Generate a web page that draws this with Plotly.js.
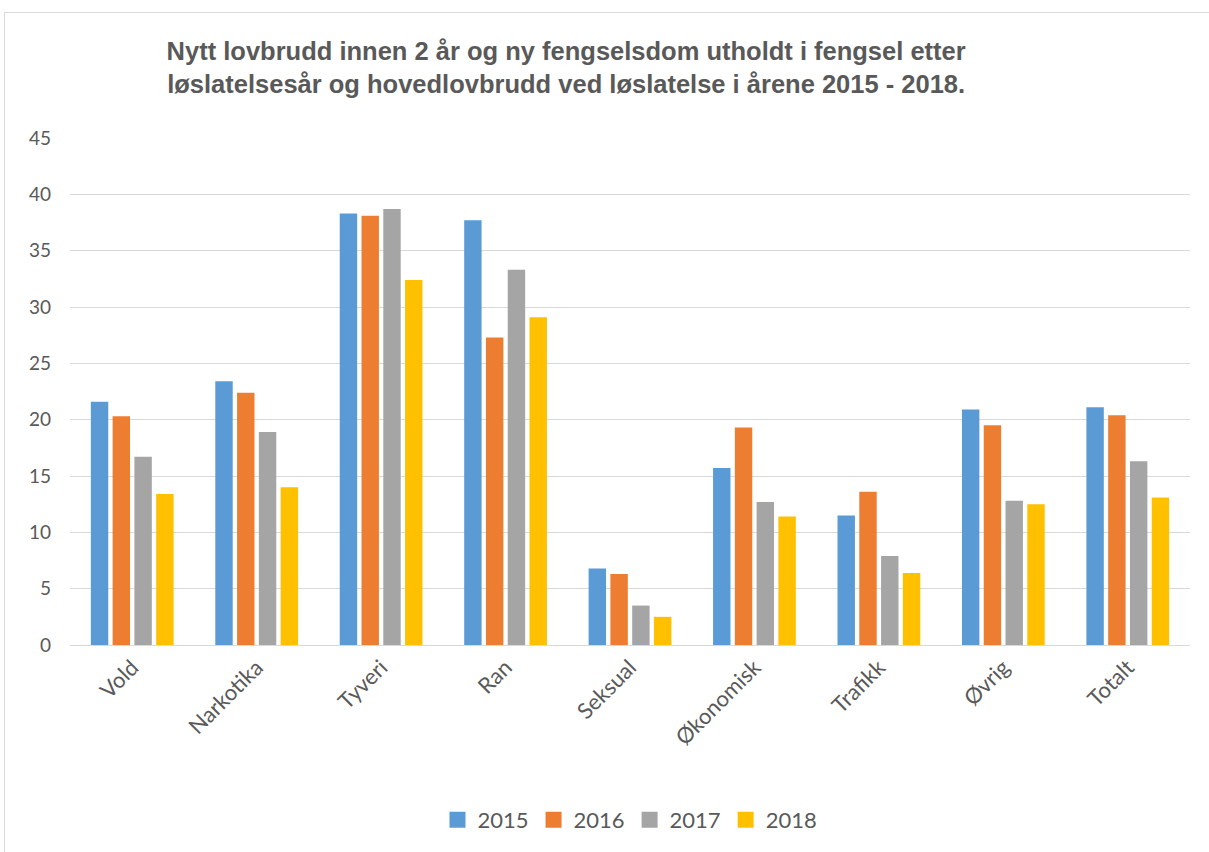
<!DOCTYPE html>
<html>
<head>
<meta charset="utf-8">
<script src="https://cdn.plot.ly/plotly-3.0.1.min.js"></script>
<style>
html,body{margin:0;padding:0;background:#fff;overflow:hidden;width:1209px;height:852px;}
#frame{position:absolute;left:4px;top:12px;width:1210px;height:845px;border-top:1.5px solid #d9d9d9;border-left:1.5px solid #d9d9d9;box-sizing:border-box;}
#chart{position:absolute;left:0;top:0;width:1209px;height:852px;}
</style>
</head>
<body>
<div id="frame"></div>
<div id="chart"></div>
<script>
const categories = ["Vold","Narkotika","Tyveri","Ran","Seksual","Økonomisk","Trafikk","Øvrig","Totalt"];
const seriesNames = ["2015","2016","2017","2018"];
const v2015 = [21.6, 23.4, 38.3, 37.7, 6.8, 15.7, 11.5, 20.9, 21.1];
const v2016 = [20.3, 22.4, 38.1, 27.3, 6.3, 19.3, 13.6, 19.5, 20.4];
const v2017 = [16.7, 18.9, 38.7, 33.3, 3.5, 12.7, 7.9, 12.8, 16.3];
const v2018 = [13.4, 14.0, 32.4, 29.1, 2.5, 11.4, 6.4, 12.5, 13.1];
const colors = ["#5b9bd5","#ed7d31","#a5a5a5","#ffc000"];
const values = [v2015, v2016, v2017, v2018];

const traces = values.map((vals, i) => ({
  type: "bar",
  name: seriesNames[i],
  x: categories,
  y: vals,
  marker: {color: colors[i]},
  legendgroup: seriesNames[i],
  showlegend: false,
  hoverinfo: "x+y+name"
}));

// legend-only entries with square symbols
seriesNames.forEach((n, i) => {
  traces.push({
    type: "scatter",
    mode: "markers",
    name: n,
    x: [null],
    y: [null],
    marker: {symbol: "square", size: 16, color: colors[i]},
    legendgroup: n,
    showlegend: true,
    hoverinfo: "skip"
  });
});

const layout = {
  width: 1209,
  height: 852,
  paper_bgcolor: "rgba(0,0,0,0)",
  plot_bgcolor: "rgba(0,0,0,0)",
  margin: {l: 70, r: 19, t: 138, b: 207, autoexpand: false},
  title: {
    text: "Nytt lovbrudd innen 2 år og ny fengselsdom utholdt i fengsel etter<br>løslatelsesår og hovedlovbrudd ved løslatelse i årene 2015 - 2018.",
    font: {family: "Liberation Sans, Arial", size: 25.5, color: "#595959", weight: "bold"},
    x: 0.443, xref: "paper", xanchor: "center",
    y: 0.93, yref: "container", yanchor: "middle"
  },
  barmode: "group",
  bargap: 0.3,
  bargroupgap: 0.2,
  xaxis: {
    type: "category",
    automargin: false,
    tickangle: -45,
    tickfont: {family: "Lato, Open Sans, sans-serif", size: 22, color: "#595959"},
    showline: true,
    linecolor: "#d9d9d9",
    linewidth: 1,
    ticks: "",
    showgrid: false
  },
  yaxis: {
    range: [0, 45],
    automargin: false,
    dtick: 5,
    tick0: 0,
    showgrid: true,
    gridcolor: "#d9d9d9",
    gridwidth: 1,
    zeroline: true,
    zerolinecolor: "#d9d9d9",
    showline: false,
    ticks: "",
    ticklen: 0,
    ticklabelstandoff: 18,
    tickfont: {family: "Lato, Open Sans, sans-serif", size: 19, color: "#595959"}
  },
  legend: {
    orientation: "h",
    x: 0.5, xanchor: "center",
    y: -0.345, yanchor: "middle",
    font: {family: "Lato, Open Sans, sans-serif", size: 22, color: "#595959"},
    itemwidth: 30,
    traceorder: "normal"
  },
  showlegend: true
};

Plotly.newPlot("chart", traces, layout, {displayModeBar: false});
</script>
</body>
</html>
